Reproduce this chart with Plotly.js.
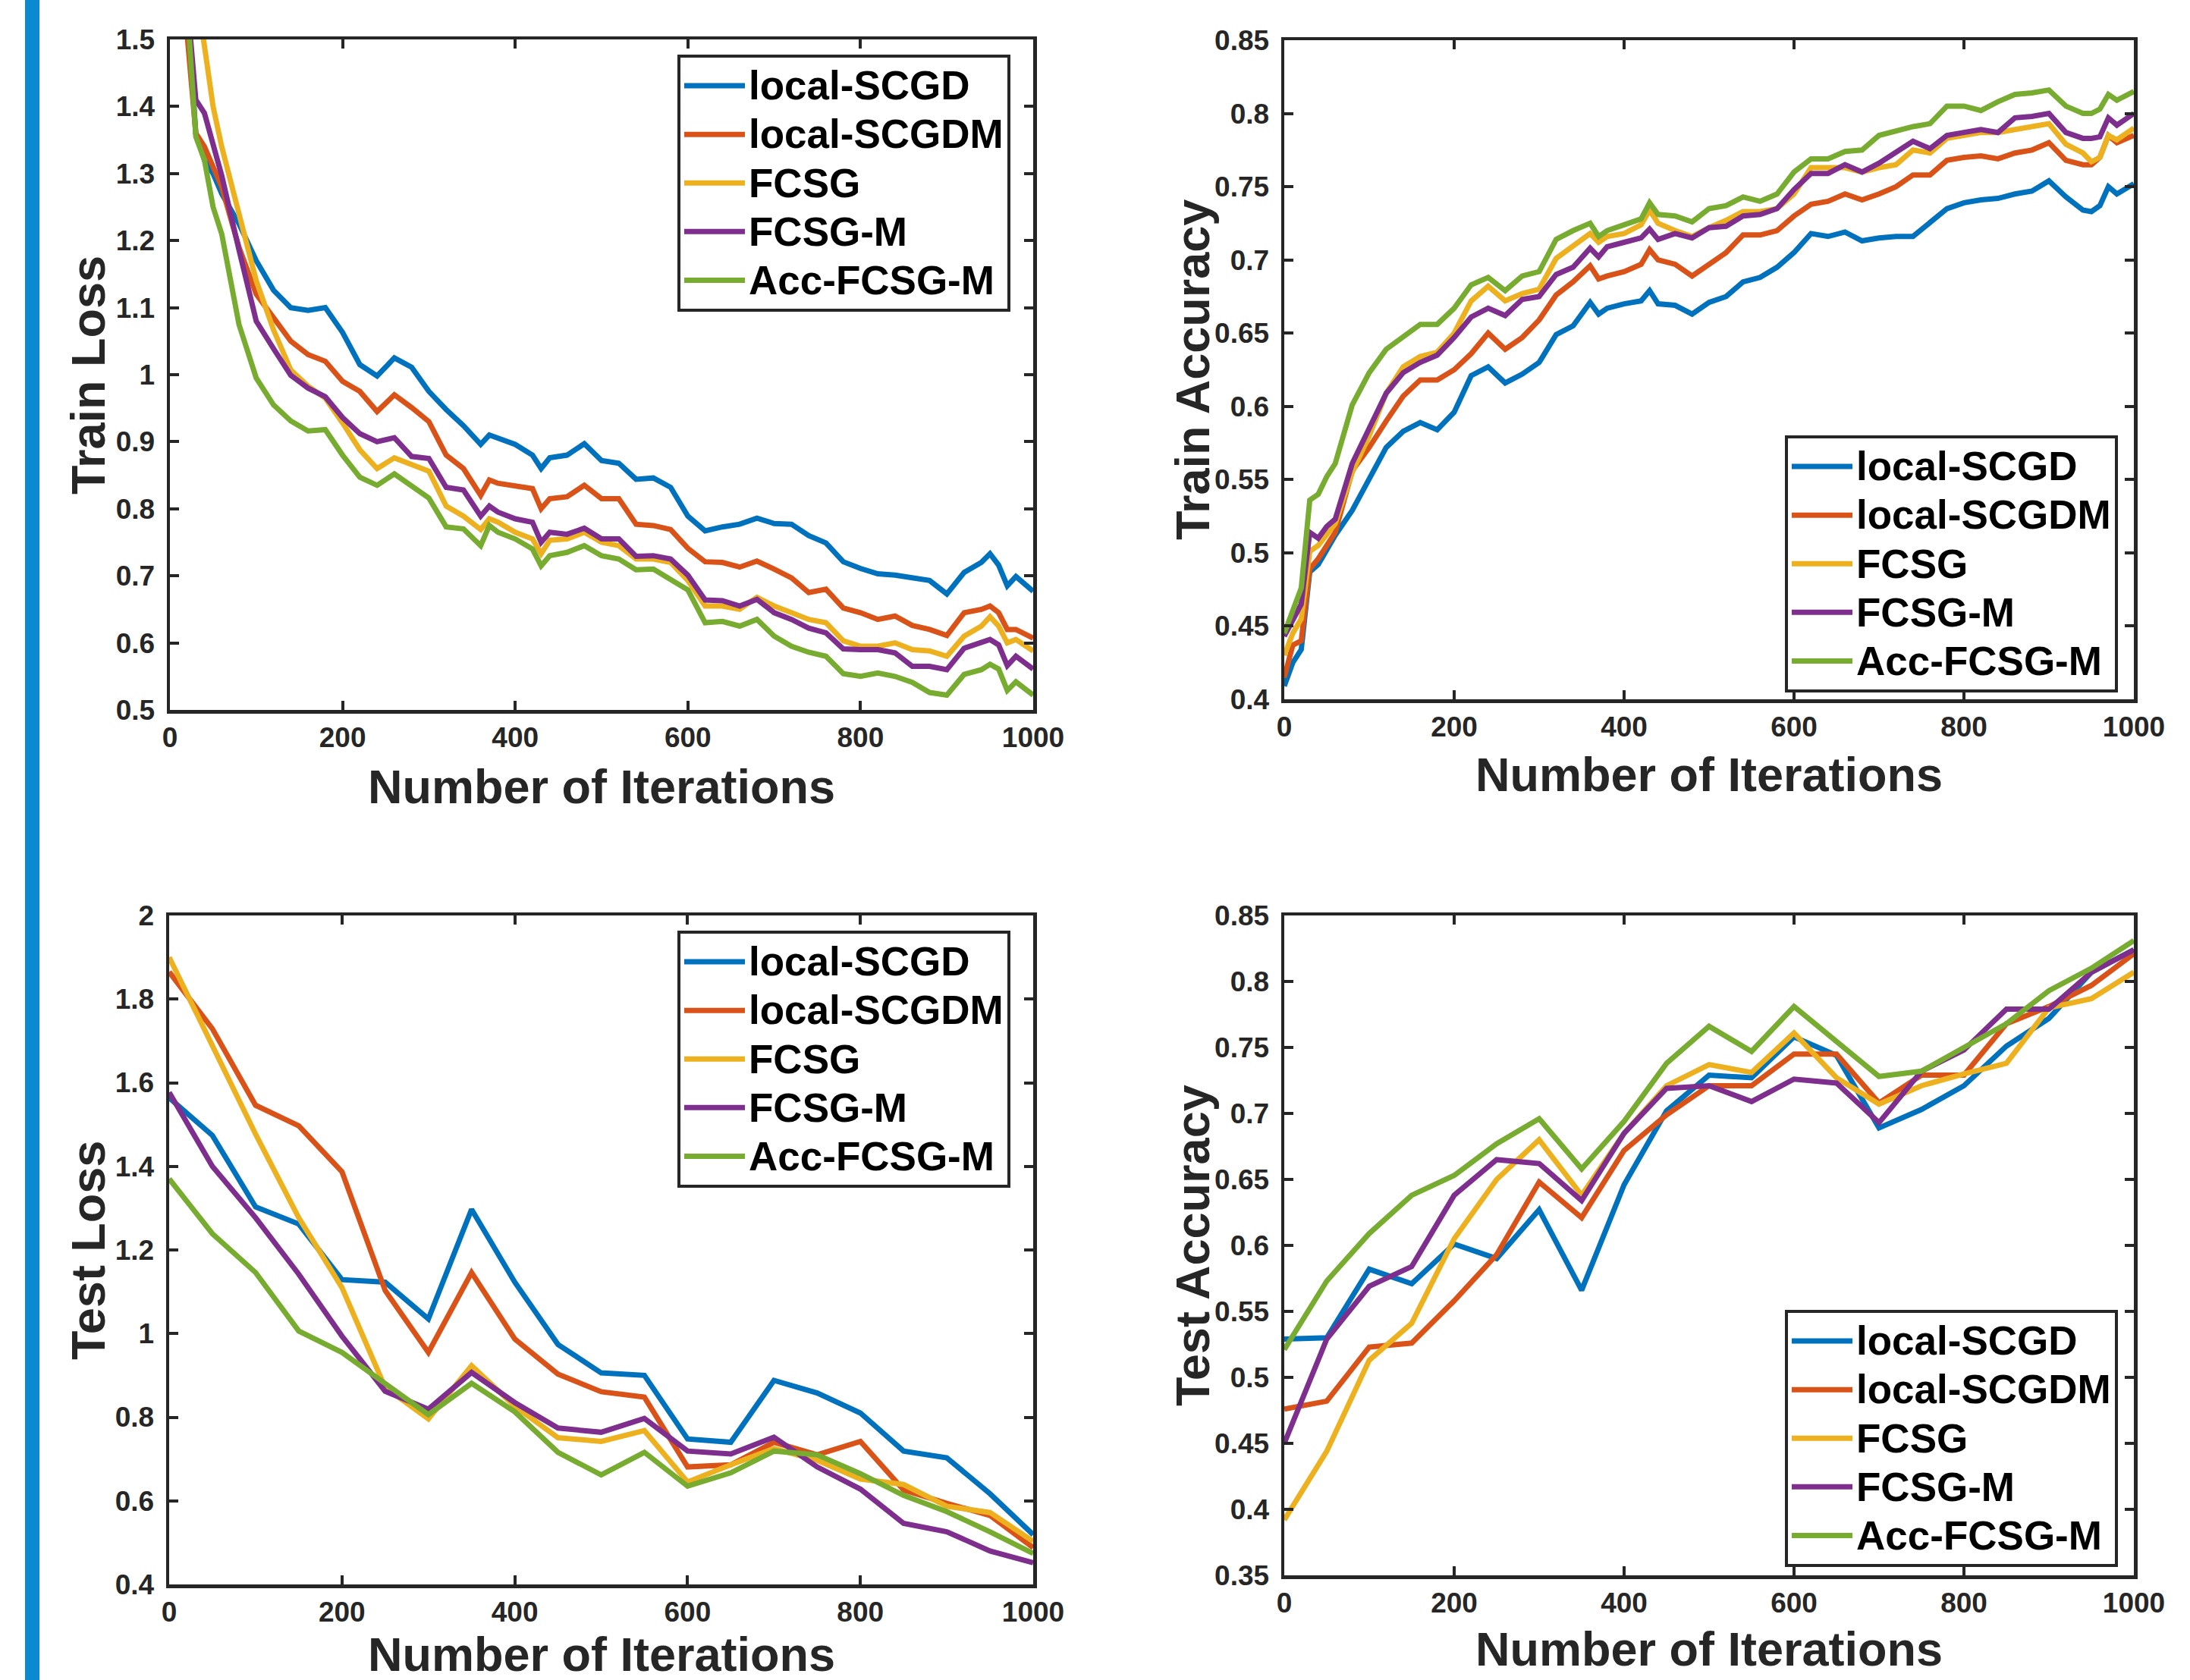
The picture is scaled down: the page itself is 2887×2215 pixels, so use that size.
<!DOCTYPE html>
<html><head><meta charset="utf-8">
<script src="https://cdn.plot.ly/plotly-3.0.1.min.js"></script>
<style>html,body{margin:0;padding:0;background:#fff;} #chart{width:2887px;height:2215px;}</style>
</head><body><div id="chart"></div>
<script>
const seriesNames = ['local-SCGD','local-SCGDM','FCSG','FCSG-M','Acc-FCSG-M'];
const seriesColors = ['#0072BD','#D95319','#EDB120','#7E2F8E','#77AC30'];

const trainIters = [0,10,20,30,40,50,60,80,100,120,140,160,180,200,220,240,260,280,300,320,340,360,370,380,400,420,430,440,460,480,500,520,540,560,580,600,620,640,660,680,700,720,740,760,780,800,820,840,860,880,900,920,940,950,960,970,980,1000];
const testIters = [0,50,100,150,200,250,300,350,400,450,500,550,600,650,700,750,800,850,900,950,1000];

// Train loss
const trainLossSCGD  = [1.75,1.62,1.55,1.36,1.32,1.30,1.27,1.225,1.17,1.126,1.10,1.096,1.10,1.063,1.015,0.998,1.025,1.011,0.975,0.948,0.924,0.896,0.91,0.906,0.896,0.88,0.86,0.876,0.88,0.897,0.872,0.868,0.844,0.846,0.832,0.789,0.767,0.773,0.777,0.786,0.778,0.777,0.76,0.749,0.721,0.711,0.703,0.701,0.697,0.693,0.673,0.705,0.72,0.733,0.716,0.685,0.699,0.677];
const trainLossSCGDM = [1.8,1.65,1.52,1.36,1.34,1.31,1.28,1.19,1.12,1.085,1.05,1.03,1.02,0.99,0.975,0.945,0.97,0.951,0.93,0.88,0.86,0.82,0.843,0.838,0.833,0.83,0.80,0.815,0.818,0.835,0.815,0.815,0.777,0.775,0.769,0.741,0.721,0.72,0.713,0.722,0.71,0.697,0.675,0.68,0.652,0.645,0.635,0.64,0.626,0.62,0.611,0.645,0.65,0.655,0.645,0.62,0.62,0.607];
const trainLossFCSG  = [2.0,1.85,1.7,1.58,1.49,1.40,1.34,1.24,1.14,1.067,1.007,0.983,0.965,0.928,0.888,0.86,0.876,0.866,0.856,0.804,0.789,0.769,0.785,0.78,0.765,0.755,0.733,0.753,0.755,0.765,0.75,0.745,0.725,0.725,0.72,0.693,0.655,0.655,0.65,0.668,0.655,0.645,0.635,0.63,0.603,0.595,0.595,0.6,0.59,0.588,0.58,0.61,0.625,0.639,0.625,0.6,0.605,0.588];
const trainLossFCSGM = [1.9,1.75,1.56,1.41,1.39,1.34,1.297,1.186,1.08,1.039,0.999,0.98,0.967,0.936,0.912,0.90,0.906,0.878,0.875,0.832,0.828,0.789,0.804,0.795,0.785,0.78,0.75,0.765,0.762,0.771,0.755,0.755,0.729,0.73,0.725,0.701,0.664,0.663,0.655,0.665,0.645,0.635,0.622,0.615,0.591,0.59,0.59,0.585,0.565,0.565,0.56,0.592,0.6,0.605,0.597,0.566,0.58,0.561];
const trainLossAcc   = [1.9,1.7,1.55,1.355,1.32,1.25,1.21,1.075,0.995,0.955,0.931,0.916,0.918,0.88,0.847,0.835,0.852,0.835,0.816,0.773,0.77,0.745,0.775,0.765,0.755,0.74,0.715,0.73,0.735,0.745,0.73,0.725,0.709,0.71,0.695,0.679,0.63,0.632,0.625,0.635,0.61,0.595,0.586,0.58,0.554,0.55,0.555,0.55,0.541,0.526,0.522,0.553,0.56,0.568,0.561,0.529,0.542,0.522];

// Train accuracy
const trainAccSCGD  = [0.409,0.425,0.434,0.487,0.492,0.502,0.512,0.529,0.55,0.572,0.583,0.589,0.584,0.596,0.621,0.627,0.616,0.622,0.63,0.649,0.655,0.671,0.663,0.667,0.67,0.672,0.679,0.67,0.669,0.663,0.671,0.675,0.685,0.688,0.695,0.705,0.718,0.716,0.719,0.713,0.715,0.716,0.716,0.725,0.735,0.739,0.741,0.742,0.745,0.747,0.754,0.743,0.734,0.733,0.737,0.75,0.745,0.752];
const trainAccSCGDM = [0.415,0.437,0.44,0.489,0.496,0.505,0.514,0.556,0.572,0.59,0.607,0.618,0.618,0.625,0.636,0.65,0.639,0.647,0.659,0.676,0.685,0.696,0.687,0.689,0.692,0.697,0.707,0.70,0.697,0.689,0.697,0.705,0.717,0.717,0.72,0.73,0.738,0.74,0.745,0.741,0.745,0.75,0.758,0.758,0.768,0.77,0.771,0.769,0.773,0.775,0.78,0.768,0.765,0.765,0.77,0.785,0.78,0.785];
const trainAccFCSG  = [0.43,0.445,0.455,0.501,0.505,0.512,0.52,0.555,0.58,0.609,0.627,0.634,0.637,0.65,0.672,0.682,0.672,0.677,0.68,0.701,0.71,0.718,0.712,0.716,0.718,0.724,0.734,0.725,0.72,0.716,0.722,0.727,0.733,0.733,0.735,0.745,0.763,0.763,0.763,0.76,0.763,0.765,0.775,0.773,0.783,0.785,0.787,0.787,0.789,0.791,0.793,0.779,0.773,0.767,0.77,0.785,0.782,0.79];
const trainAccFCSGM = [0.443,0.455,0.465,0.514,0.51,0.518,0.523,0.561,0.586,0.609,0.623,0.63,0.635,0.647,0.661,0.667,0.662,0.673,0.675,0.69,0.695,0.708,0.702,0.709,0.712,0.715,0.721,0.714,0.718,0.715,0.722,0.723,0.73,0.731,0.735,0.748,0.759,0.759,0.765,0.76,0.766,0.773,0.781,0.776,0.785,0.787,0.789,0.787,0.797,0.798,0.80,0.787,0.783,0.783,0.784,0.797,0.792,0.80];
const trainAccAcc   = [0.445,0.46,0.476,0.536,0.54,0.552,0.561,0.601,0.623,0.639,0.648,0.656,0.656,0.667,0.683,0.688,0.679,0.689,0.692,0.714,0.72,0.725,0.716,0.72,0.724,0.728,0.739,0.731,0.73,0.726,0.735,0.737,0.743,0.74,0.745,0.76,0.769,0.769,0.774,0.775,0.785,0.788,0.791,0.793,0.805,0.805,0.802,0.808,0.813,0.814,0.816,0.805,0.80,0.80,0.803,0.813,0.809,0.815];

// Test loss
const testLossSCGD  = [1.564,1.474,1.303,1.262,1.129,1.123,1.035,1.297,1.123,0.974,0.906,0.9,0.748,0.74,0.888,0.858,0.81,0.719,0.703,0.617,0.519];
const testLossSCGDM = [1.865,1.729,1.546,1.497,1.387,1.103,0.955,1.146,0.987,0.903,0.861,0.848,0.681,0.686,0.74,0.71,0.742,0.626,0.594,0.565,0.488];
const testLossFCSG  = [1.9,1.69,1.477,1.277,1.11,0.871,0.796,0.923,0.826,0.751,0.742,0.768,0.645,0.686,0.725,0.697,0.652,0.639,0.587,0.572,0.503];
const testLossFCSGM = [1.577,1.4,1.277,1.142,0.994,0.862,0.819,0.907,0.835,0.774,0.764,0.797,0.719,0.712,0.752,0.681,0.628,0.546,0.526,0.48,0.452];
const testLossAcc   = [1.37,1.239,1.146,1.006,0.955,0.88,0.806,0.881,0.813,0.716,0.662,0.716,0.635,0.667,0.719,0.71,0.665,0.613,0.574,0.526,0.474];

// Test accuracy
const testAccSCGD  = [0.529,0.53,0.582,0.571,0.601,0.59,0.627,0.566,0.646,0.702,0.729,0.727,0.758,0.744,0.689,0.703,0.721,0.751,0.772,0.807,0.824];
const testAccSCGDM = [0.476,0.482,0.523,0.526,0.558,0.593,0.648,0.621,0.672,0.699,0.721,0.721,0.745,0.745,0.708,0.729,0.729,0.768,0.781,0.797,0.821];
const testAccFCSG  = [0.392,0.444,0.513,0.541,0.605,0.65,0.68,0.638,0.685,0.721,0.737,0.731,0.761,0.727,0.707,0.721,0.73,0.738,0.78,0.787,0.807];
const testAccFCSGM = [0.45,0.529,0.569,0.584,0.638,0.665,0.662,0.634,0.685,0.719,0.721,0.709,0.726,0.723,0.693,0.732,0.748,0.779,0.779,0.807,0.824];
const testAccAcc   = [0.521,0.573,0.609,0.638,0.653,0.677,0.696,0.658,0.694,0.738,0.766,0.747,0.781,0.754,0.728,0.732,0.75,0.768,0.793,0.81,0.831];

const xTitle = 'Number of Iterations';
const panelTitles = ['Train Loss','Train Accuracy','Test Loss','Test Accuracy'];

const W = 2887, H = 2215;
const FONT = 'Liberation Sans, Arial, Helvetica, sans-serif';
const INK = '#262626';

const panels = [
  {ys:[trainLossSCGD,trainLossSCGDM,trainLossFCSG,trainLossFCSGM,trainLossAcc], x:trainIters, yr:[0.5,1.5], dt:0.1, t0:0.5,
   px:[224,1362], py:[52,936], legend:'legend', lx:893, ly:72, yt:[116,494], xt:[793,1037]},
  {ys:[trainAccSCGD,trainAccSCGDM,trainAccFCSG,trainAccFCSGM,trainAccAcc], x:trainIters, yr:[0.4,0.85], dt:0.05, t0:0.4,
   px:[1693,2813], py:[53,922], legend:'legend2', lx:2353, ly:574, yt:[1572,488], xt:[2253,1021]},
  {ys:[testLossSCGD,testLossSCGDM,testLossFCSG,testLossFCSGM,testLossAcc], x:testIters, yr:[0.4,2], dt:0.2, t0:0.4,
   px:[223,1362], py:[1207,2089], legend:'legend3', lx:893, ly:1227, yt:[116,1648], xt:[793,2181]},
  {ys:[testAccSCGD,testAccSCGDM,testAccFCSG,testAccFCSGM,testAccAcc], x:testIters, yr:[0.35,0.85], dt:0.05, t0:0.35,
   px:[1693,2813], py:[1207,2077], legend:'legend4', lx:2353, ly:1727, yt:[1572,1642], xt:[2253,2174]}
];

const data = [];
const layout = {
  width: W, height: H,
  margin: {l:0, r:0, t:0, b:0},
  paper_bgcolor: '#fff', plot_bgcolor: '#fff',
  font: {family: FONT, color: INK},
  hovermode: false,
  shapes: [{type:'rect', xref:'paper', yref:'paper', x0:33/W, x1:52/W, y0:0, y1:1, fillcolor:'#0B89D1', line:{width:0}, layer:'below'}],
  annotations: []
};

panels.forEach((p, i) => {
  const n = i + 1;
  const xa = 'xaxis' + (n === 1 ? '' : n), ya = 'yaxis' + (n === 1 ? '' : n);
  const xr = 'x' + (n === 1 ? '' : n), yr = 'y' + (n === 1 ? '' : n);
  const common = {
    showline: true, linecolor: INK, linewidth: 4.5, mirror: 'ticks',
    ticks: 'inside', ticklen: 12, tickwidth: 4, tickcolor: INK,
    showgrid: false, zeroline: false, fixedrange: true,
    tickfont: {family: FONT, size: 37, color: INK, weight: 'bold'}
  };
  layout[xa] = Object.assign({}, common, {
    domain: [p.px[0]/W, p.px[1]/W], anchor: yr, range: [0, 1000], tick0: 0, dtick: 200,
    ticklabelstandoff: 0
  });
  layout[ya] = Object.assign({}, common, {
    domain: [1 - p.py[1]/H, 1 - p.py[0]/H], anchor: xr, range: p.yr, tick0: p.t0, dtick: p.dt,
    ticklabelstandoff: 8
  });
  layout[p.legend] = {
    x: p.lx/W, y: 1 - p.ly/H, xanchor: 'left', yanchor: 'top',
    bgcolor: '#fff', bordercolor: INK, borderwidth: 4,
    font: {family: FONT, size: 47, color: '#000', weight: 'bold'},
    itemwidth: 80, tracegroupgap: 0, itemclick: false, itemdoubleclick: false
  };
  p.ys.forEach((ys, k) => {
    data.push({
      type: 'scatter', mode: 'lines', x: p.x, y: ys, xaxis: xr, yaxis: yr,
      name: '<span style="font-size:53px">' + seriesNames[k] + '</span>', legend: p.legend,
      line: {color: seriesColors[k], width: 7}
    });
  });
  layout.annotations.push({
    xref: 'paper', yref: 'paper', x: p.xt[0]/W, y: 1 - p.xt[1]/H, xanchor: 'center', yanchor: 'middle',
    text: xTitle, showarrow: false, font: {family: FONT, size: 63, color: INK, weight: 'bold'}
  });
  layout.annotations.push({
    xref: 'paper', yref: 'paper', x: p.yt[0]/W, y: 1 - p.yt[1]/H, xanchor: 'center', yanchor: 'middle',
    text: panelTitles[i], textangle: -90, showarrow: false, font: {family: FONT, size: 63, color: INK, weight: 'bold'}
  });
});

Plotly.newPlot('chart', data, layout, {staticPlot: true, displayModeBar: false});
</script>
</body></html>
